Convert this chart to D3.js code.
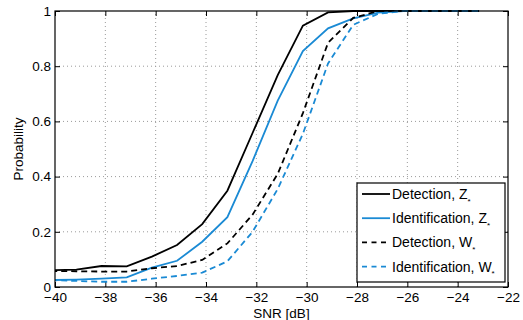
<!DOCTYPE html>
<html>
<head>
<meta charset="utf-8">
<script src="https://cdn.jsdelivr.net/npm/d3@7"></script>
<style>
  body { margin: 0; background: #fff; }
  text { font-family: "Liberation Sans", Arial, sans-serif; fill: #000; }
</style>
</head>
<body>
<div id="chart"></div>
<script>
// SNR points (dB)
var snr = [-40.15, -39.15, -38.15, -37.15, -36.15, -35.15, -34.15, -33.15, -32.15,
           -31.15, -30.15, -29.15, -28.15, -27.15, -26.15, -25.15, -24.15, -23.15];

var detZ  = [0.061, 0.063, 0.076, 0.075, 0.11, 0.152, 0.228, 0.349, 0.558,
             0.768, 0.947, 0.995, 1.0, 1.0, 1.0, 1.0, 1.0, 1.0];
var idZ   = [0.025, 0.027, 0.03, 0.035, 0.07, 0.095, 0.164, 0.253, 0.456,
             0.675, 0.855, 0.937, 0.973, 0.994, 1.0, 1.0, 1.0, 1.0];
var detW  = [0.058, 0.057, 0.056, 0.056, 0.068, 0.076, 0.098, 0.158, 0.262,
             0.41, 0.63, 0.885, 0.975, 1.0, 1.0, 1.0, 1.0, 1.0];
var idW   = [0.025, 0.022, 0.019, 0.019, 0.03, 0.04, 0.052, 0.093, 0.2,
             0.355, 0.555, 0.81, 0.95, 0.99, 1.0, 1.0, 1.0, 1.0];

var xTicks = [-40, -38, -36, -34, -32, -30, -28, -26, -24, -22];
var yTicks = [0, 0.2, 0.4, 0.6, 0.8, 1];

var seriesNames = ["Detection, Z", "Identification, Z", "Detection, W", "Identification, W"];

var blue = "#1a8ad4";
var series = [
  {name: seriesNames[0], values: detZ, color: "#000", dash: null},
  {name: seriesNames[1], values: idZ,  color: blue,   dash: null},
  {name: seriesNames[2], values: detW, color: "#000", dash: "6,4"},
  {name: seriesNames[3], values: idW,  color: blue,   dash: "6,4"}
];

var W = 523, H = 320;
var m = {left: 55, right: 15, top: 11, bottom: 33};

var svg = d3.select("#chart").append("svg")
  .attr("width", W)
  .attr("height", H);

var x = d3.scaleLinear().domain([-40, -22]).range([m.left, W - m.right]);
var y = d3.scaleLinear().domain([0, 1]).range([H - m.bottom, m.top]);

svg.append("defs").append("clipPath").attr("id", "clip")
  .append("rect")
  .attr("x", m.left).attr("y", m.top - 2)
  .attr("width", x(-22) - m.left).attr("height", y(0) - m.top + 2);

// grid
var grid = svg.append("g").attr("class", "grid");
grid.selectAll("line.gx").data(xTicks.slice(1, -1)).enter().append("line")
  .attr("x1", d => x(d)).attr("x2", d => x(d))
  .attr("y1", y(0)).attr("y2", y(1))
  .attr("stroke", "#9a9a9a").attr("stroke-width", 1)
  .attr("stroke-dasharray", "1,3");
grid.selectAll("line.gy").data(yTicks.slice(1, -1)).enter().append("line")
  .attr("x1", x(-40)).attr("x2", x(-22))
  .attr("y1", d => y(d)).attr("y2", d => y(d))
  .attr("stroke", "#9a9a9a").attr("stroke-width", 1)
  .attr("stroke-dasharray", "1,3");

// axes (MATLAB style box with inward ticks)
var tickLen = -5;
var fmt = d => d === 0 ? "0" : (d < 0 ? "\u2212" + Math.abs(d) : String(d));

svg.append("g").attr("transform", "translate(0," + y(0) + ")")
  .call(d3.axisBottom(x).tickValues(xTicks).tickSize(tickLen).tickPadding(5).tickFormat(fmt))
  .call(g => g.select(".domain").remove());
svg.append("g").attr("transform", "translate(0," + y(1) + ")")
  .call(d3.axisTop(x).tickValues(xTicks).tickSize(tickLen).tickFormat(""))
  .call(g => g.select(".domain").remove());
svg.append("g").attr("transform", "translate(" + x(-40) + ",0)")
  .call(d3.axisLeft(y).tickValues(yTicks).tickSize(tickLen).tickPadding(4).tickFormat(d => d === 0 || d === 1 ? String(d) : d.toFixed(1)))
  .call(g => g.select(".domain").remove());
svg.append("g").attr("transform", "translate(" + x(-22) + ",0)")
  .call(d3.axisRight(y).tickValues(yTicks).tickSize(tickLen).tickFormat(""))
  .call(g => g.select(".domain").remove());

svg.selectAll(".tick text")
  .style("font-family", "'Liberation Sans', Arial, sans-serif")
  .style("font-size", "13.5px")
  .attr("fill", "#000");
svg.selectAll(".tick line").attr("stroke", "#000");

// lines
var line = d3.line()
  .x((d, i) => x(snr[i]))
  .y(d => y(d));

svg.append("g").attr("clip-path", "url(#clip)")
  .selectAll("path").data(series).enter().append("path")
  .attr("d", d => line(d.values))
  .attr("fill", "none")
  .attr("stroke", d => d.color)
  .attr("stroke-width", 1.8)
  .attr("stroke-dasharray", d => d.dash);

// box
svg.append("rect")
  .attr("x", x(-40)).attr("y", y(1))
  .attr("width", x(-22) - x(-40)).attr("height", y(0) - y(1))
  .attr("fill", "none").attr("stroke", "#000").attr("stroke-width", 1.2);

// axis labels
svg.append("text")
  .attr("x", (x(-40) + x(-22)) / 2).attr("y", 318)
  .attr("text-anchor", "middle")
  .style("font-size", "13.5px")
  .text("SNR [dB]");
svg.append("text")
  .attr("transform", "translate(23," + ((y(0) + y(1)) / 2) + ") rotate(-90)")
  .attr("text-anchor", "middle")
  .style("font-size", "13.5px")
  .text("Probability");

// legend
var lg = svg.append("g");
lg.append("rect")
  .attr("x", 357).attr("y", 183).attr("width", 148).attr("height", 99)
  .attr("fill", "#fff").attr("stroke", "#000").attr("stroke-width", 1.2);
var item = lg.selectAll("g.item").data(series).enter().append("g")
  .attr("transform", (d, i) => "translate(0," + (194 + i * 24.2) + ")");
item.append("line")
  .attr("x1", 362).attr("x2", 390)
  .attr("stroke", d => d.color).attr("stroke-width", 1.8)
  .attr("stroke-dasharray", d => d.dash ? "5,4.5" : null);
var lt = item.append("text")
  .attr("x", 392).attr("dy", "0.35em")
  .style("font-size", "14px");
lt.append("tspan").text(d => d.name);
lt.append("tspan").attr("dy", 5).style("font-size", "8px").text("*");
</script>
</body>
</html>
